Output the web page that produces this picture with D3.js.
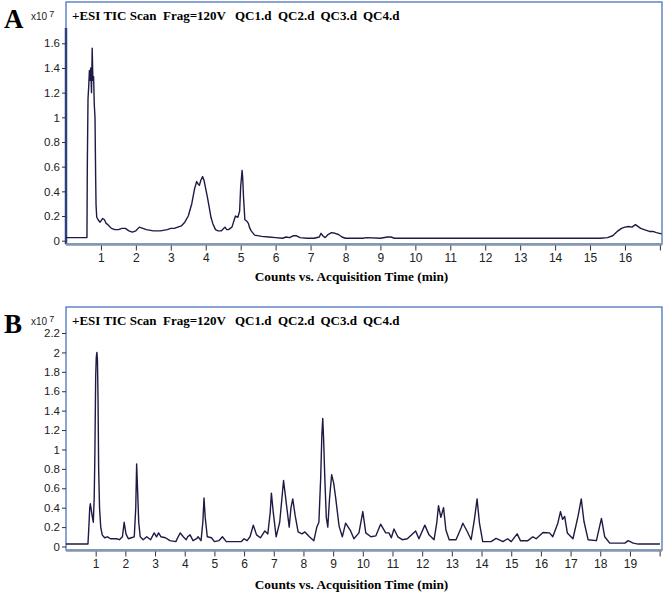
<!DOCTYPE html>
<html>
<head>
<meta charset="utf-8">
<script src="https://cdn.jsdelivr.net/npm/d3@7"></script>
<style>
  body { margin: 0; background: #fff; }
  svg { display: block; }
</style>
</head>
<body>
<svg id="chart" width="666" height="596"></svg>
<script>
// Panel A: retention time (min) and TIC counts (x10^7)
const timesA = [0, 0.6, 0.61, 0.63, 0.65, 0.67, 0.69, 0.71, 0.73, 0.75, 0.77, 0.79, 0.81, 0.83, 0.85, 0.86, 0.88, 0.92, 0.97,
  1.0, 1.05, 1.1, 1.15, 1.2, 1.3, 1.4, 1.5, 1.6, 1.7, 1.8, 1.9, 2.0, 2.1, 2.2, 2.3, 2.5, 2.7, 2.9, 3.0, 3.1, 3.2, 3.3, 3.4,
  3.5, 3.6, 3.68, 3.74, 3.78, 3.82, 3.86, 3.91, 3.95, 4.0, 4.05, 4.1, 4.15, 4.2, 4.28, 4.35, 4.45, 4.55, 4.6, 4.65, 4.75,
  4.85, 4.92, 4.97, 5.0, 5.02, 5.04, 5.06, 5.08, 5.12, 5.17, 5.22, 5.25, 5.3, 5.4, 5.6, 5.8, 6.0, 6.2, 6.3, 6.4, 6.5, 6.6,
  6.7, 6.9, 7.1, 7.25, 7.3, 7.35, 7.42, 7.5, 7.6, 7.7, 7.8, 7.9, 8.0, 8.5, 8.6, 9.0, 9.2, 9.3, 9.4, 9.5, 10, 12, 14, 15.3,
  15.5, 15.65, 15.8, 15.9, 16.0, 16.1, 16.2, 16.3, 16.35, 16.45, 16.55, 16.7, 16.8, 16.9, 17.05];
const countsA = [0.025, 0.025, 0.6, 1.15, 1.25, 1.38, 1.3, 1.4, 1.2, 1.56, 1.3, 1.33, 1.1, 1.0, 0.49, 0.29, 0.19, 0.17, 0.15,
  0.16, 0.18, 0.17, 0.14, 0.13, 0.1, 0.09, 0.09, 0.1, 0.1, 0.08, 0.07, 0.08, 0.11, 0.1, 0.09, 0.08, 0.08, 0.09, 0.1, 0.1, 0.11, 0.12, 0.15,
  0.2, 0.3, 0.42, 0.48, 0.46, 0.45, 0.49, 0.52, 0.49, 0.42, 0.35, 0.27, 0.19, 0.14, 0.09, 0.08, 0.08, 0.11, 0.09, 0.09, 0.11,
  0.2, 0.19, 0.24, 0.44, 0.5, 0.57, 0.5, 0.36, 0.17, 0.16, 0.14, 0.11, 0.08, 0.045, 0.035, 0.03, 0.025, 0.02, 0.03, 0.025, 0.04, 0.04,
  0.025, 0.02, 0.02, 0.03, 0.06, 0.04, 0.025, 0.05, 0.065, 0.06, 0.05, 0.03, 0.02, 0.02, 0.025, 0.02, 0.03, 0.03, 0.02, 0.02, 0.02, 0.02, 0.02, 0.02,
  0.025, 0.04, 0.08, 0.1, 0.11, 0.115, 0.11, 0.13, 0.12, 0.1, 0.09, 0.075, 0.075, 0.065, 0.055];

// Panel B
const timesB = [0, 0.74, 0.77, 0.8, 0.82, 0.85, 0.89, 0.92, 0.95, 0.97, 1.0, 1.02, 1.04, 1.06, 1.08, 1.1, 1.13, 1.17, 1.22,
  1.3, 1.4, 1.5, 1.6, 1.7, 1.8, 1.9, 1.96, 2.02, 2.1, 2.2, 2.3, 2.35, 2.38, 2.41, 2.45, 2.5, 2.6, 2.72, 2.85, 2.97, 3.05,
  3.12, 3.2, 3.35, 3.5, 3.7, 3.78, 3.85, 3.95, 4.05, 4.1, 4.18, 4.28, 4.4, 4.45, 4.55, 4.61, 4.65, 4.69, 4.76, 4.9, 5.0,
  5.15, 5.27, 5.4, 5.6, 5.9, 6.0, 6.1, 6.2, 6.31, 6.42, 6.55, 6.7, 6.8, 6.88, 6.92, 6.98, 7.08, 7.2, 7.33, 7.42, 7.52,
  7.58, 7.64, 7.72, 7.82, 7.95, 8.05, 8.2, 8.35, 8.45, 8.52, 8.58, 8.62, 8.65, 8.68, 8.72, 8.77, 8.82, 8.88, 8.95, 9.02,
  9.09, 9.2, 9.31, 9.42, 9.59, 9.7, 9.87, 10.0, 10.1, 10.27, 10.44, 10.6, 10.77, 10.88, 10.96, 11.05, 11.18, 11.33, 11.5,
  11.78, 11.89, 12.09, 12.23, 12.4, 12.49, 12.55, 12.63, 12.72, 12.8, 12.91, 13.14, 13.31, 13.37, 13.51, 13.65, 13.76,
  13.85, 13.93, 14.04, 14.32, 14.49, 14.72, 14.88, 15.0, 15.2, 15.31, 15.56, 15.73, 15.84, 16.07, 16.29, 16.4, 16.57,
  16.66, 16.73, 16.8, 16.89, 17.08, 17.25, 17.36, 17.45, 17.59, 17.87, 18.04, 18.15, 18.32, 18.83, 18.94, 19.11, 19.28, 20.01];
const countsB = [0.025, 0.025, 0.2, 0.4, 0.44, 0.38, 0.3, 0.25, 0.5, 0.88, 1.75, 1.95, 2.0, 1.92, 1.5, 0.8, 0.4, 0.2, 0.12,
  0.09, 0.1, 0.08, 0.08, 0.08, 0.07, 0.1, 0.25, 0.13, 0.08, 0.09, 0.1, 0.4, 0.85, 0.6, 0.25, 0.1, 0.07, 0.1, 0.07, 0.14, 0.1,
  0.14, 0.1, 0.09, 0.06, 0.05, 0.1, 0.14, 0.1, 0.07, 0.1, 0.12, 0.06, 0.08, 0.1, 0.06, 0.25, 0.5, 0.3, 0.1, 0.09, 0.05,
  0.06, 0.1, 0.05, 0.05, 0.05, 0.08, 0.06, 0.1, 0.22, 0.12, 0.09, 0.16, 0.13, 0.35, 0.55, 0.36, 0.1, 0.25, 0.68, 0.45, 0.2,
  0.4, 0.49, 0.32, 0.15, 0.13, 0.15, 0.1, 0.06, 0.2, 0.25, 0.7, 1.15, 1.32, 1.1, 0.7, 0.3, 0.2, 0.5, 0.74, 0.65,
  0.49, 0.21, 0.1, 0.24, 0.16, 0.08, 0.14, 0.36, 0.14, 0.1, 0.11, 0.23, 0.14, 0.14, 0.09, 0.18, 0.1, 0.07, 0.08,
  0.16, 0.08, 0.22, 0.12, 0.07, 0.24, 0.42, 0.3, 0.4, 0.17, 0.07, 0.07, 0.19, 0.24, 0.16, 0.07, 0.28,
  0.49, 0.24, 0.05, 0.05, 0.083, 0.05, 0.08, 0.05, 0.13, 0.06, 0.06, 0.1, 0.08, 0.145, 0.14, 0.1, 0.24,
  0.36, 0.28, 0.31, 0.14, 0.08, 0.31, 0.49, 0.26, 0.07, 0.06, 0.29, 0.1, 0.035, 0.035, 0.06, 0.035, 0.025, 0.025];

// title pieces as shown in the header of each panel
const titleParts = ["+ESI TIC Scan", "Frag=120V", "QC1.d", "QC2.d", "QC3.d", "QC4.d"];
const xAxisTitle = "Counts vs. Acquisition Time (min)";
const yTicksA = [0, 0.2, 0.4, 0.6, 0.8, 1, 1.2, 1.4, 1.6];
const yTicksB = [0, 0.2, 0.4, 0.6, 0.8, 1, 1.2, 1.4, 1.6, 1.8, 2, 2.2];
const xTicksA = d3.range(1, 18);
const xTicksB = d3.range(1, 21);

const svg = d3.select("#chart");
const serif = "'Liberation Serif', 'Times New Roman', serif";
const sans = "'Liberation Sans', Arial, sans-serif";
const titleX = [72, 163, 235, 278, 320.5, 363];

function drawPanel(p) {
  const g = svg.append("g");
  const x = d3.scaleLinear().domain([0, p.xMax]).range([p.left, p.right]);
  const y = d3.scaleLinear().domain([0, p.yTop]).range([p.y0, p.yTopPx]);

  // frame
  g.append("rect")
    .attr("x", p.left).attr("y", p.top)
    .attr("width", p.right - p.left).attr("height", p.bottom - p.top)
    .attr("fill", "#fff")
    .attr("stroke", "#6386c6")
    .attr("stroke-width", 1.5);

  if (p.leftBar) {
    g.append("line")
      .attr("x1", p.left).attr("x2", p.left)
      .attr("y1", p.leftBar).attr("y2", p.bottom)
      .attr("stroke", "#2c417f")
      .attr("stroke-width", 2.5);
  }

  // bottom axis rule
  g.append("line")
    .attr("x1", p.left).attr("x2", p.right)
    .attr("y1", p.bottom + 0.5).attr("y2", p.bottom + 0.5)
    .attr("stroke", "#8596b0")
    .attr("stroke-width", 2.5);

  // trace
  const line = d3.line()
    .x((d, i) => x(p.times[i]))
    .y(d => y(d));
  g.append("path")
    .datum(p.values)
    .attr("fill", "none")
    .attr("stroke", "#1d1b45")
    .attr("stroke-width", 1.4)
    .attr("stroke-linejoin", "round")
    .attr("d", line);

  // y axis
  const yAxis = g.append("g")
    .attr("transform", "translate(" + p.left + ",0)")
    .call(d3.axisLeft(y).tickValues(p.yTicks).tickSize(4).tickPadding(2).tickFormat(d3.format("~g")));
  yAxis.select(".domain").remove();
  yAxis.selectAll("line").attr("stroke", "#333");
  yAxis.selectAll("text")
    .attr("fill", "#222")
    .style("font-family", sans)
    .style("font-size", "11.5px");

  // x axis
  const last = p.xTicks[p.xTicks.length - 1];
  const xAxis = g.append("g")
    .attr("transform", "translate(0," + (p.bottom + 1.5) + ")")
    .call(d3.axisBottom(x).tickValues(p.xTicks).tickSize(5).tickPadding(3)
      .tickFormat(d => d === last ? "" : d));
  xAxis.select(".domain").remove();
  xAxis.selectAll("line").attr("stroke", "#333");
  xAxis.selectAll("text")
    .attr("fill", "#222")
    .style("font-family", sans)
    .style("font-size", "12px");

  // panel letter
  g.append("text")
    .attr("x", 4).attr("y", p.top + 26)
    .style("font-family", serif)
    .style("font-weight", "bold")
    .style("font-size", "27px")
    .text(p.letter);

  // x10^7
  const mult = g.append("text")
    .attr("x", 31).attr("y", p.top + 18)
    .attr("fill", "#222")
    .style("font-family", sans)
    .style("font-size", "10px");
  mult.append("tspan").text("x10");
  mult.append("tspan").attr("dx", 2).attr("dy", -3).style("font-size", "9px").text("7");

  // title
  g.append("g").selectAll("text")
    .data(titleParts)
    .join("text")
    .attr("x", (d, i) => titleX[i])
    .attr("y", p.top + 18)
    .style("font-family", serif)
    .style("font-weight", "bold")
    .style("font-size", "13px")
    .text(d => d);

  // axis title
  g.append("text")
    .attr("x", 351.5).attr("y", p.axisTitleY)
    .attr("text-anchor", "middle")
    .style("font-family", serif)
    .style("font-weight", "bold")
    .style("font-size", "13.3px")
    .text(xAxisTitle);
}

drawPanel({
  letter: "A", times: timesA, values: countsA,
  xMax: 17.06, xTicks: xTicksA, yTicks: yTicksA, yTop: 1.6,
  left: 66, right: 662, top: 2, bottom: 244,
  y0: 240.7, yTopPx: 43.3, leftBar: 28, axisTitleY: 281
});

drawPanel({
  letter: "B", times: timesB, values: countsB,
  xMax: 20.08, xTicks: xTicksB, yTicks: yTicksB, yTop: 2.2,
  left: 66, right: 662, top: 307, bottom: 550,
  y0: 546.5, yTopPx: 333, leftBar: null, axisTitleY: 589
});
</script>
</body>
</html>
